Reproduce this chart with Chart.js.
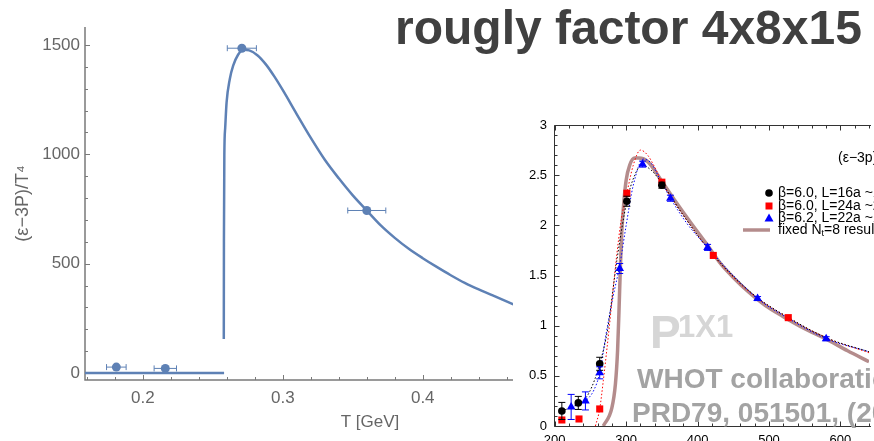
<!DOCTYPE html>
<html>
<head>
<meta charset="utf-8">
<script src="https://cdn.jsdelivr.net/npm/chart.js@4.4.1/dist/chart.umd.min.js"></script>
<style>
  html, body { margin: 0; padding: 0; background: #fff; overflow: hidden; }
  body { width: 874px; height: 441px; position: relative; }
  #left { position: absolute; left: 0; top: 0; }
  #right { position: absolute; left: 513px; top: 100px; background: #fff; }
  #title { position: absolute; left: 395px; top: 4px; font: bold 48px/48px "Liberation Sans", Arial, sans-serif; color: #404040; white-space: nowrap; }
</style>
</head>
<body>
<canvas id="left" width="700" height="441"></canvas>
<canvas id="right" width="361" height="341"></canvas>
<div id="title">rougly factor 4x8x15</div>
<script>
// left panel (T in GeV)
const tData = [0.181, 0.216, 0.2707, 0.36];
const eData = [27, 21, 1485, 743];
const tErr = [0.007, 0.008, 0.0104, 0.0136];
const tLow = [0.1586, 0.258];
const eLow = [0, 0];
const tCurve = [0.2578, 0.2579, 0.2582, 0.2588, 0.2598, 0.2621, 0.2645, 0.268, 0.2717, 0.276, 0.282, 0.288, 0.294,
  0.30, 0.31, 0.32, 0.33, 0.34, 0.35, 0.36, 0.37, 0.38, 0.39, 0.40, 0.41, 0.42, 0.43, 0.44, 0.45, 0.466];
const eCurve = [155, 600, 1000, 1120, 1237, 1344, 1405, 1455, 1478, 1475, 1452, 1410, 1355,
  1293, 1183, 1075, 975, 890, 812, 743, 675, 618, 568, 525, 485, 447, 412, 382, 355, 310];
const xTicksL = [0.2, 0.3, 0.4, 0.5];
const yTicksL = [0, 500, 1000, 1500];

// right panel (WHOT, T in MeV)
const blackT = [210, 233, 263, 301, 350];
const blackV = [0.15, 0.23, 0.62, 2.24, 2.40];
const blackErr = [0.085, 0.065, 0.065, 0.05, 0.03];
const redT = [210, 234, 263, 301, 350, 422, 527];
const redV = [0.06, 0.07, 0.17, 2.32, 2.43, 1.70, 1.08];
const blueT = [223, 243, 263, 291, 323, 362, 414, 484, 580];
const blueV = [0.19, 0.25, 0.53, 1.57, 2.61, 2.27, 1.78, 1.27, 0.87];
const blueErr = [0.125, 0.09, 0.06, 0.05, 0.03, 0.03, 0.03, 0.02, 0.02];
const nt8T = [268, 280, 285, 288, 290, 292, 294, 297, 300, 305, 312, 318, 331, 349, 368, 391, 414, 432, 450, 469, 495, 520, 550, 579, 610, 640];
const nt8V = [0, 0.18, 0.42, 0.75, 1.15, 1.6, 1.95, 2.25, 2.45, 2.6, 2.67, 2.67, 2.63, 2.45, 2.25, 2.02, 1.80, 1.62, 1.48, 1.35, 1.2, 1.09, 0.97, 0.87, 0.75, 0.64];
const blackFitT = [210, 233, 248, 263, 274, 287, 301, 312, 322, 335, 350, 380, 420, 480, 530, 580, 640];
const blackFitV = [0.15, 0.22, 0.33, 0.62, 0.96, 1.65, 2.24, 2.5, 2.6, 2.55, 2.42, 2.1, 1.72, 1.3, 1.07, 0.88, 0.74];
const redFitT = [257, 263, 268, 276, 286, 293, 301, 310, 320, 330, 340, 350, 385, 422, 470, 527, 580, 640];
const redFitV = [0, 0.17, 0.45, 0.96, 1.65, 2.05, 2.32, 2.6, 2.75, 2.7, 2.58, 2.43, 2.05, 1.70, 1.35, 1.08, 0.88, 0.73];
const blueFitT = [223, 243, 255, 263, 272, 282, 291, 300, 310, 324, 335, 348, 362, 385, 414, 450, 484, 530, 580, 640];
const blueFitV = [0.19, 0.25, 0.36, 0.53, 0.92, 1.3, 1.6, 2.0, 2.4, 2.66, 2.62, 2.45, 2.27, 2.02, 1.78, 1.5, 1.27, 1.06, 0.87, 0.74];
const xTicksR = [200, 300, 400, 500, 600];
const yTicksR = [0, 0.5, 1, 1.5, 2, 2.5, 3];

const pts = (xs, ys) => xs.map((v, i) => ({ x: v, y: ys[i] }));
const FONT = '"Liberation Sans", Arial, sans-serif';
const mmaBlue = '#5e81b5';

// error bars from errX / errY arrays on a dataset
const errorBars = {
  id: 'errorBars',
  afterDatasetsDraw(chart) {
    const { ctx, scales: { x, y } } = chart;
    chart.data.datasets.forEach(ds => {
      if (!ds.errX && !ds.errY) return;
      ctx.save();
      ctx.strokeStyle = ds.errColor || ds.borderColor;
      ctx.lineWidth = 1;
      ctx.beginPath();
      ds.data.forEach((p, i) => {
        const px = x.getPixelForValue(p.x), py = y.getPixelForValue(p.y);
        const cap = ds.errCap || 3;
        if (ds.errX && ds.errX[i]) {
          const l = x.getPixelForValue(p.x - ds.errX[i]), r = x.getPixelForValue(p.x + ds.errX[i]);
          ctx.moveTo(l, py); ctx.lineTo(r, py);
          ctx.moveTo(l, py - cap); ctx.lineTo(l, py + cap);
          ctx.moveTo(r, py - cap); ctx.lineTo(r, py + cap);
        }
        if (ds.errY && ds.errY[i]) {
          const t = y.getPixelForValue(p.y + ds.errY[i]), b = y.getPixelForValue(p.y - ds.errY[i]);
          ctx.moveTo(px, t); ctx.lineTo(px, b);
          ctx.moveTo(px - cap, t); ctx.lineTo(px + cap, t);
          ctx.moveTo(px - cap, b); ctx.lineTo(px + cap, b);
        }
      });
      ctx.stroke();
      ctx.restore();
    });
  }
};

// Mathematica-like axes with inward ticks
const mmaAxes = {
  id: 'mmaAxes',
  beforeDatasetsDraw(chart) {
    const { ctx, chartArea: a, scales: { x, y } } = chart;
    ctx.save();
    ctx.strokeStyle = '#7a7a7a';
    ctx.lineWidth = 1.5;
    ctx.beginPath();
    ctx.moveTo(a.left, a.top);
    ctx.lineTo(a.left, a.bottom);
    ctx.lineTo(a.right, a.bottom);
    ctx.stroke();
    ctx.lineWidth = 1;
    ctx.beginPath();
    for (let v = 0; v <= 1500; v += 100) {
      const py = Math.round(y.getPixelForValue(v)) + 0.5;
      ctx.moveTo(a.left, py);
      ctx.lineTo(a.left + (v % 500 === 0 ? 5 : 3), py);
    }
    for (let i = 16; i <= 56; i += 2) {
      const px = Math.round(x.getPixelForValue(i / 100)) + 0.5;
      ctx.moveTo(px, a.bottom);
      ctx.lineTo(px, a.bottom - (i % 10 === 0 ? 5 : 3));
    }
    ctx.stroke();
    ctx.restore();
  }
};

new Chart(document.getElementById('left'), {
  type: 'scatter',
  data: {
    datasets: [
      { data: pts(tData, eData), errX: tErr, errColor: mmaBlue, pointRadius: 4.5, backgroundColor: mmaBlue, borderWidth: 0 },
      { data: pts(tLow, eLow), showLine: true, borderColor: mmaBlue, borderWidth: 2.5, pointRadius: 0 },
      { data: pts(tCurve, eCurve), showLine: true, borderColor: mmaBlue, borderWidth: 2.5, pointRadius: 0, cubicInterpolationMode: 'monotone' }
    ]
  },
  options: {
    responsive: false, animation: false, devicePixelRatio: 1,
    layout: { padding: { top: 27, right: 45, left: 0, bottom: 0 } },
    plugins: { legend: { display: false }, tooltip: { enabled: false } },
    scales: {
      x: {
        type: 'linear', min: 0.1586, max: 0.566,
        grid: { display: false, drawTicks: false }, border: { display: false },
        afterBuildTicks: s => { s.ticks = xTicksL.map(v => ({ value: v })); },
        afterFit: s => { s.height = 61; },
        ticks: { padding: 8, color: '#666', font: { family: FONT, size: 17 }, maxRotation: 0, autoSkip: false, callback: v => v.toFixed(1) },
        title: { display: true, text: 'T [GeV]', color: '#666', font: { family: FONT, size: 17 }, padding: { bottom: 8 } }
      },
      y: {
        type: 'linear', min: -32, max: 1582,
        grid: { display: false, drawTicks: false }, border: { display: false },
        afterBuildTicks: s => { s.ticks = yTicksL.map(v => ({ value: v })); },
        afterFit: s => { s.width = 85; },
        ticks: { padding: 5, color: '#666', font: { family: FONT, size: 17 }, callback: v => String(v) },
        title: { display: true, text: '(ε−3P)/T⁴', color: '#666', font: { family: FONT, size: 18 }, padding: { top: 12 } }
      }
    }
  },
  plugins: [mmaAxes, errorBars]
});

// frame, ticks, watermarks and legend of the WHOT figure
const whotFrame = {
  id: 'whotFrame',
  beforeDatasetsDraw(chart) {
    const { ctx, chartArea: a, scales: { x, y } } = chart;
    ctx.save();
    ctx.strokeStyle = '#333';
    ctx.lineWidth = 1;
    const L = Math.round(a.left) + 0.5, T = Math.round(a.top) + 0.5, B = Math.round(a.bottom) + 0.5;
    ctx.beginPath();
    ctx.moveTo(a.right + 2, T); ctx.lineTo(L, T); ctx.lineTo(L, B); ctx.lineTo(a.right + 2, B);
    for (let v = 200; v <= 640; v += 20) {
      const px = Math.round(x.getPixelForValue(v)) + 0.5;
      const len = v % 100 === 0 ? 5 : 3;
      ctx.moveTo(px, B); ctx.lineTo(px, B - len);
      ctx.moveTo(px, T); ctx.lineTo(px, T + len);
    }
    for (let i = 0; i <= 30; i++) {
      const py = Math.round(y.getPixelForValue(i / 10)) + 0.5;
      ctx.moveTo(L, py); ctx.lineTo(L + (i % 5 === 0 ? 5 : 3), py);
    }
    ctx.stroke();

    // watermarks
    ctx.textBaseline = 'alphabetic';
    ctx.textAlign = 'left';
    ctx.fillStyle = '#d6d6d6';
    ctx.font = 'bold 46px ' + FONT;
    ctx.fillText('P', 137, 248);
    ctx.font = 'bold 31px ' + FONT;
    ctx.fillText('1X1', 165, 237);
    ctx.fillStyle = '#a3a3a3';
    ctx.font = 'bold 28px ' + FONT;
    ctx.fillText('WHOT collaboration', 124, 288);
    ctx.fillText('PRD79, 051501, (2009)', 119, 322);
    ctx.restore();
  },
  afterDraw(chart) {
    const { ctx } = chart;
    ctx.save();
    ctx.fillStyle = '#000';
    ctx.textBaseline = 'middle';
    ctx.textAlign = 'left';
    ctx.font = '14px ' + FONT;
    ctx.fillText('(ε−3p)/T⁴', 325, 58);
    const rows = [93, 106, 118, 130];
    const tx = 265, mx = 256;
    // black circle
    ctx.beginPath(); ctx.arc(mx, rows[0], 3.8, 0, Math.PI * 2); ctx.fill();
    ctx.fillText('β=6.0, L=16a ~1.5 fm', tx, rows[0]);
    // red square
    ctx.fillStyle = '#f00'; ctx.fillRect(mx - 3.5, rows[1] - 3.5, 7, 7);
    ctx.fillStyle = '#000'; ctx.fillText('β=6.0, L=24a ~2.2 fm', tx, rows[1]);
    // blue triangle
    ctx.fillStyle = '#00f';
    ctx.beginPath(); ctx.moveTo(mx, rows[2] - 4.5); ctx.lineTo(mx + 4.5, rows[2] + 3.5); ctx.lineTo(mx - 4.5, rows[2] + 3.5); ctx.closePath(); ctx.fill();
    ctx.fillStyle = '#000'; ctx.fillText('β=6.2, L=22a ~1.5 fm', tx, rows[2]);
    // Nt=8 line
    ctx.strokeStyle = '#b48c8c'; ctx.lineWidth = 3.5;
    ctx.beginPath(); ctx.moveTo(230, rows[3]); ctx.lineTo(257, rows[3]); ctx.stroke();
    let cx = tx;
    ctx.fillText('fixed N', cx, rows[3]); cx += ctx.measureText('fixed N').width;
    ctx.font = '9px ' + FONT; ctx.fillText('t', cx, rows[3] + 4); cx += ctx.measureText('t').width;
    ctx.font = '14px ' + FONT; ctx.fillText('=8 results', cx, rows[3]);
    ctx.restore();
  }
};

const fit = (xs, ys, color) => ({
  data: pts(xs, ys), showLine: true, borderColor: color, borderWidth: 1, borderDash: [1.5, 2],
  pointRadius: 0, cubicInterpolationMode: 'monotone'
});

new Chart(document.getElementById('right'), {
  type: 'scatter',
  data: {
    datasets: [
      { data: pts(blackT, blackV), errY: blackErr, errCap: 3.5, pointStyle: 'circle', pointRadius: 3.8, backgroundColor: '#000', borderColor: '#000', borderWidth: 0 },
      { data: pts(redT, redV), pointStyle: 'rect', pointRadius: 5, backgroundColor: '#f00', borderColor: '#f00', borderWidth: 0 },
      { data: pts(blueT, blueV), errY: blueErr, errCap: 3.5, pointStyle: 'triangle', pointRadius: 5, backgroundColor: '#00f', borderColor: '#00f', borderWidth: 0 },
      fit(blackFitT, blackFitV, '#000'),
      fit(redFitT, redFitV, '#f00'),
      fit(blueFitT, blueFitV, '#00f'),
      { data: pts(nt8T, nt8V), showLine: true, borderColor: '#b48c8c', borderWidth: 3.5, pointRadius: 0, cubicInterpolationMode: 'monotone' }
    ]
  },
  options: {
    responsive: false, animation: false, devicePixelRatio: 1,
    layout: { padding: { top: 25, right: 0, left: 0, bottom: 0 } },
    plugins: { legend: { display: false }, tooltip: { enabled: false } },
    scales: {
      x: {
        type: 'linear', min: 199, max: 640,
        grid: { display: false, drawTicks: false }, border: { display: false },
        afterBuildTicks: s => { s.ticks = xTicksR.map(v => ({ value: v })); },
        afterFit: s => { s.height = 15; },
        ticks: { padding: 7, color: '#000', font: { family: FONT, size: 13 }, maxRotation: 0, autoSkip: false, callback: v => String(v) }
      },
      y: {
        type: 'linear', min: 0, max: 3,
        grid: { display: false, drawTicks: false }, border: { display: false },
        afterBuildTicks: s => { s.ticks = yTicksR.map(v => ({ value: v })); },
        afterFit: s => { s.width = 41; },
        ticks: { padding: 7, color: '#000', font: { family: FONT, size: 13 }, callback: v => String(v) }
      }
    }
  },
  plugins: [whotFrame, errorBars]
});
</script>
</body>
</html>
